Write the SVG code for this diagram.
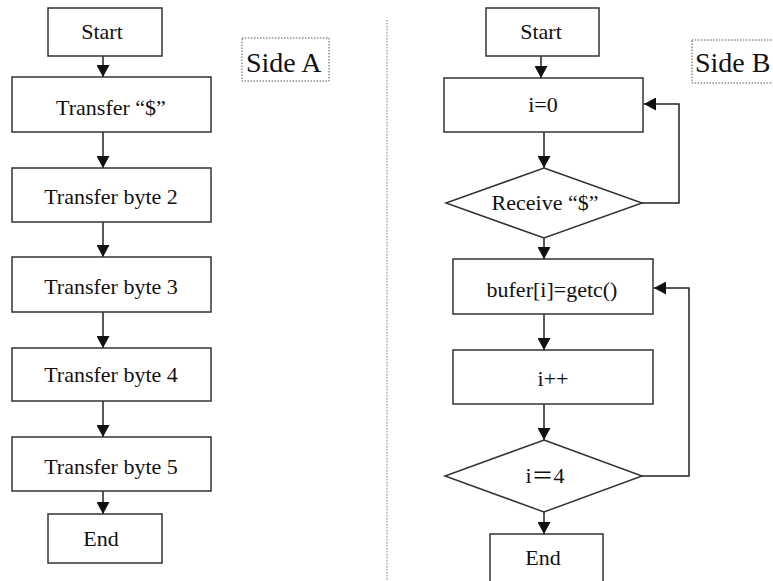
<svg xmlns="http://www.w3.org/2000/svg" width="773" height="581" viewBox="0 0 773 581">
<style>
.box{fill:#fff;stroke:#333;stroke-width:1.5}
.lbl{fill:#fff;stroke:#555;stroke-width:1;stroke-dasharray:1.5 1.5}
.t{font-family:'Liberation Serif','DejaVu Serif',serif;font-size:22px;fill:#111;text-anchor:middle}
.side{font-family:'Liberation Serif','DejaVu Serif',serif;font-size:28px;fill:#111}
.c{fill:none;stroke:#222;stroke-width:1.5}
</style>
<defs>
<marker id="ah" markerUnits="userSpaceOnUse" markerWidth="13" markerHeight="13" refX="12" refY="6.5" orient="auto">
<path d="M0,0 L12,6.5 L0,13 z" fill="#111"/>
</marker>
</defs>
<rect width="773" height="581" fill="#fff"/>
<line x1="387" y1="20" x2="387" y2="581" stroke="#777" stroke-width="1" stroke-dasharray="1.5 1.5"/>

<g id="connectors">
<line class="c" x1="103" y1="56" x2="103" y2="77" marker-end="url(#ah)"/>
<line class="c" x1="103" y1="132" x2="103" y2="168" marker-end="url(#ah)"/>
<line class="c" x1="103" y1="222" x2="103" y2="257" marker-end="url(#ah)"/>
<line class="c" x1="103" y1="312" x2="103" y2="348" marker-end="url(#ah)"/>
<line class="c" x1="103" y1="401" x2="103" y2="437" marker-end="url(#ah)"/>
<line class="c" x1="103" y1="491" x2="103" y2="514" marker-end="url(#ah)"/>
<line class="c" x1="541" y1="56" x2="541" y2="78" marker-end="url(#ah)"/>
<line class="c" x1="544" y1="132" x2="544" y2="168" marker-end="url(#ah)"/>
<line class="c" x1="544" y1="238" x2="544" y2="259" marker-end="url(#ah)"/>
<line class="c" x1="544" y1="314" x2="544" y2="350" marker-end="url(#ah)"/>
<line class="c" x1="544" y1="404" x2="544" y2="440" marker-end="url(#ah)"/>
<line class="c" x1="544" y1="512" x2="544" y2="534" marker-end="url(#ah)"/>
<polyline class="c" points="642,203 679,203 679,104 644,104" marker-end="url(#ah)"/>
<polyline class="c" points="642,476 689,476 689,288 654,288" marker-end="url(#ah)"/>
</g>

<g id="sideA"><rect class="lbl" x="242" y="38" width="87" height="43"/><text class="side" x="246" y="72">Side A</text></g>
<g id="sideB"><rect class="lbl" x="692" y="40" width="90" height="43"/><text class="side" x="695" y="72">Side B</text></g>

<g id="a_start"><rect class="box" x="48" y="8" width="114" height="48"/><text class="t" x="102" y="39">Start</text></g>
<g id="a_t1"><rect class="box" x="12" y="77" width="199" height="55"/><text class="t" x="111" y="115">Transfer “$”</text></g>
<g id="a_t2"><rect class="box" x="12" y="168" width="199" height="54"/><text class="t" x="111" y="204">Transfer byte 2</text></g>
<g id="a_t3"><rect class="box" x="12" y="257" width="199" height="55"/><text class="t" x="111" y="294">Transfer byte 3</text></g>
<g id="a_t4"><rect class="box" x="12" y="348" width="199" height="53"/><text class="t" x="111" y="382">Transfer byte 4</text></g>
<g id="a_t5"><rect class="box" x="12" y="437" width="199" height="54"/><text class="t" x="111" y="474">Transfer byte 5</text></g>
<g id="a_end"><rect class="box" x="48" y="514" width="114" height="49"/><text class="t" x="101" y="546">End</text></g>

<g id="b_start"><rect class="box" x="486" y="8" width="113" height="48"/><text class="t" x="541" y="39">Start</text></g>
<g id="b_i0"><rect class="box" x="444" y="78" width="199" height="54"/><text class="t" x="543" y="112">i=0</text></g>
<g id="b_recv"><polygon class="box" points="544,168 642,203 544,238 446,203"/><text class="t" x="545" y="210">Receive “$”</text></g>
<g id="b_buf"><rect class="box" x="453" y="259" width="200" height="55"/><text class="t" x="552" y="297">bufer[i]=getc()</text></g>
<g id="b_inc"><rect class="box" x="453" y="350" width="200" height="54"/><text class="t" x="553" y="386">i++</text></g>
<g id="b_cmp"><polygon class="box" points="544,440 642,476 544,512 445,476"/><text class="t" x="545" y="483" style="font-family:'Liberation Serif','Noto Sans CJK SC',serif">i＝4</text></g>
<g id="b_end"><rect class="box" x="490" y="534" width="113" height="52"/><text class="t" x="543" y="565">End</text></g>
</svg>
